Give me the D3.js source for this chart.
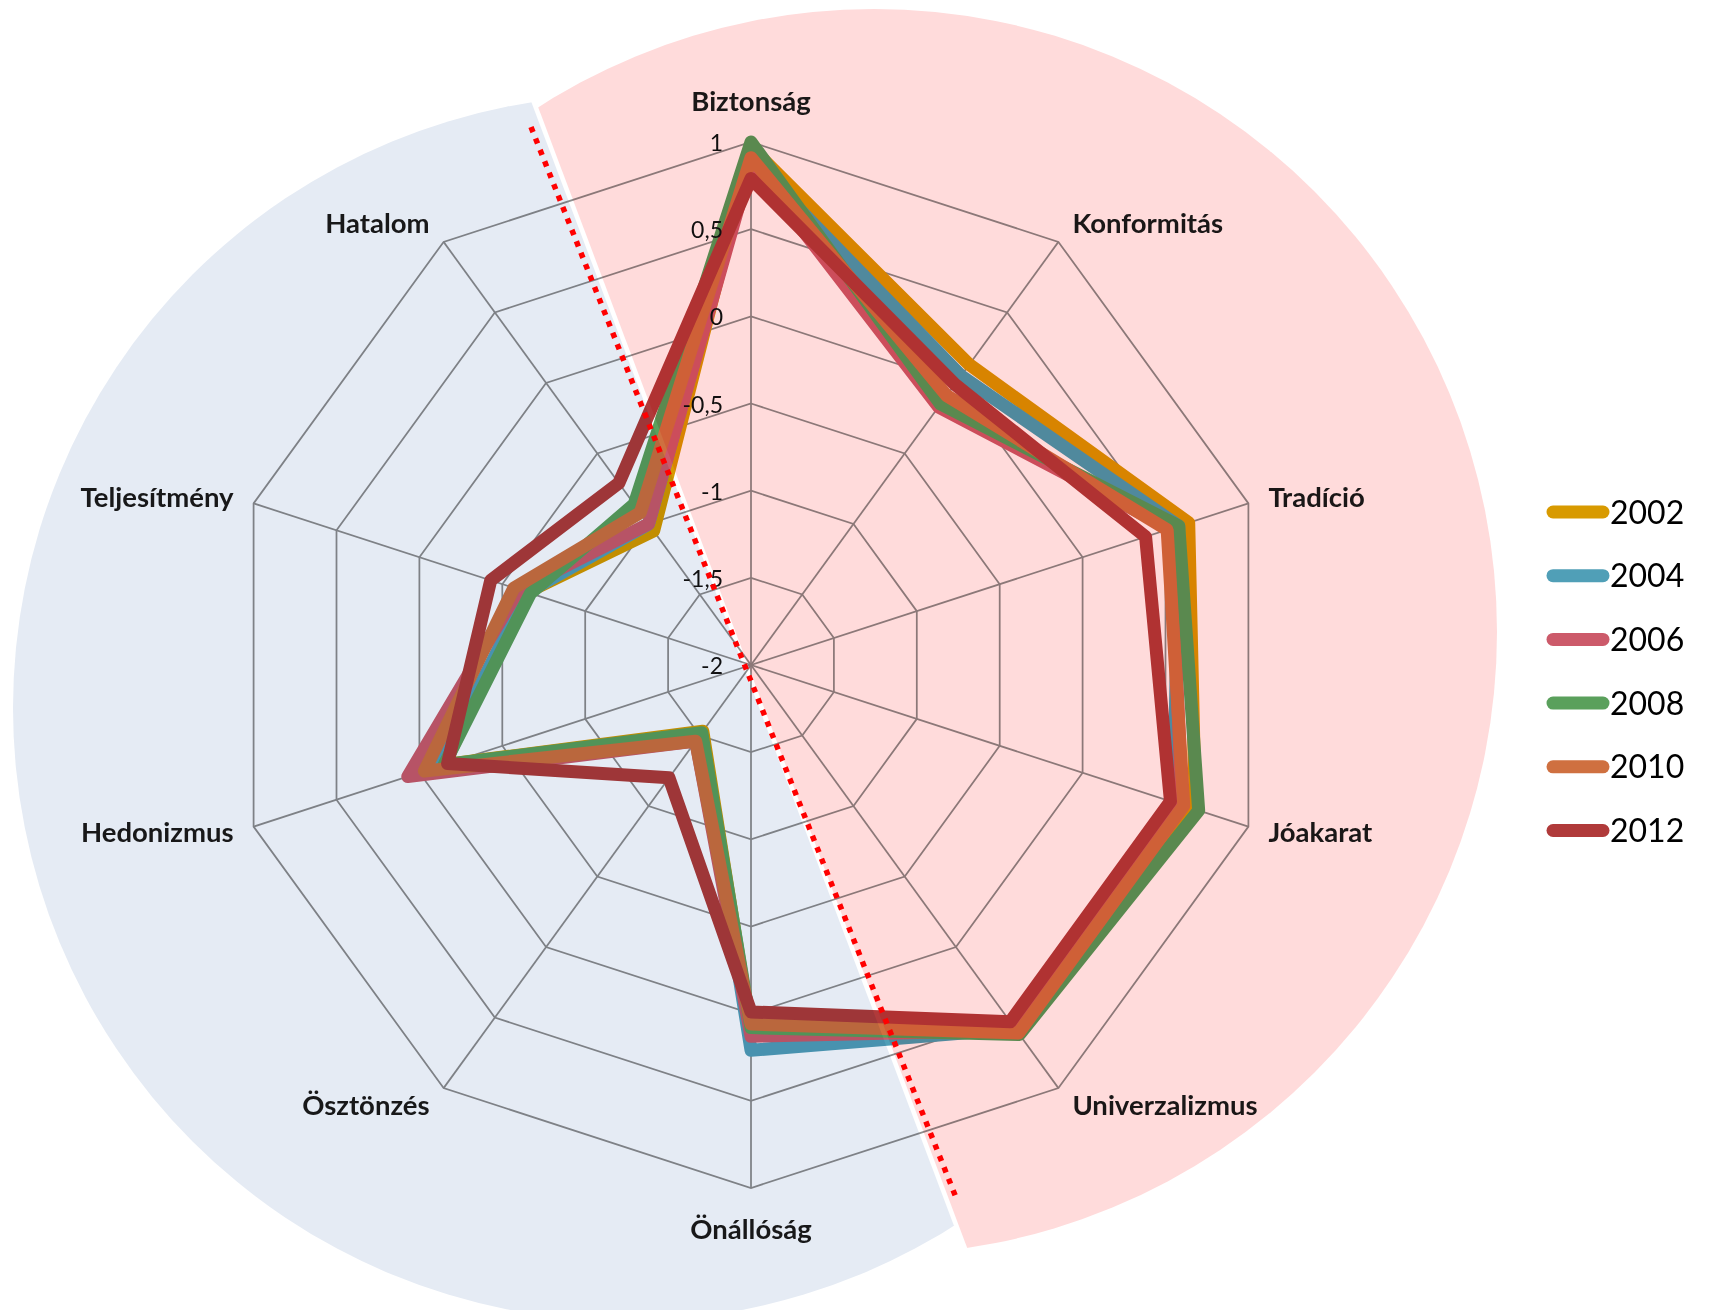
<!DOCTYPE html>
<html><head><meta charset="utf-8">
<script src="https://cdn.jsdelivr.net/npm/d3@7"></script>
<style>
html,body{margin:0;padding:0;background:#fff;}
svg{display:block;background:#fff;}
text{font-family:Lato,"Noto Sans",sans-serif;}
</style></head><body>
<svg id="chart" width="1710" height="1310"></svg>
<script>
// ---------- data ----------
const categories = ["Biztonság","Konformitás","Tradíció","Jóakarat","Univerzalizmus","Önállóság","Ösztönzés","Hedonizmus","Teljesítmény","Hatalom"];
const years = ["2002","2004","2006","2008","2010","2012"];
const v2002 = [0.97, 0.13, 0.64, 0.68, 0.60, 0.11, -1.53, -0.15, -0.65, -1.05];
const v2004 = [0.90, 0.05, 0.58, 0.55, 0.58, 0.21, -1.50, -0.12, -0.65, -1.00];
const v2006 = [0.88, -0.17, 0.53, 0.60, 0.59, 0.13, -1.46, 0.07, -0.60, -1.00];
const v2008 = [1.00, -0.15, 0.58, 0.70, 0.62, 0.08, -1.52, -0.15, -0.67, -0.86];
const v2010 = [0.91, -0.09, 0.51, 0.61, 0.61, 0.06, -1.46, -0.03, -0.57, -0.92];
const v2012 = [0.79, -0.01, 0.38, 0.53, 0.53, -0.01, -1.20, -0.17, -0.43, -0.71];
const seriesValues = [v2002, v2004, v2006, v2008, v2010, v2012];
const tickValues = [-2, -1.5, -1, -0.5, 0, 0.5, 1];
const tickLabels = ["-2", "-1,5", "-1", "-0,5", "0", "0,5", "1"];
const seriesColors = ["#d89a00", "#509fb7", "#cc5a6a", "#5aa05c", "#cf7040", "#b03a3a"];

// ---------- layout ----------
const cx = 751, cy = 665, R = 523;
const svg = d3.select("#chart");
const ang = d3.scaleLinear().domain([0, categories.length]).range([0, 2 * Math.PI]);
const rad = d3.scaleLinear().domain([tickValues[0], tickValues[tickValues.length - 1]]).range([0, R]);
const radarLine = d3.lineRadial().angle((d, i) => ang(i)).radius(d => rad(d)).curve(d3.curveLinearClosed);

const g = svg.append("g").attr("transform", `translate(${cx},${cy})`);

// grid rings
tickValues.slice(1).forEach(v => {
  g.append("path").attr("d", radarLine(categories.map(() => v)))
    .attr("fill", "none").attr("stroke", "#8c8c8c").attr("stroke-width", 1.75);
});
// spokes
categories.forEach((c, i) => {
  const [x, y] = d3.pointRadial(ang(i), rad(tickValues[tickValues.length - 1]));
  g.append("line").attr("x1", 0).attr("y1", 0).attr("x2", x).attr("y2", y)
    .attr("stroke", "#8c8c8c").attr("stroke-width", 1.75);
});

// series
years.forEach((yr, k) => {
  g.append("path").attr("d", radarLine(seriesValues[k]))
    .attr("fill", "none").attr("stroke", seriesColors[k])
    .attr("stroke-width", 13).attr("stroke-linejoin", "round");
});

// tick labels
tickValues.forEach((v, i) => {
  g.append("text").attr("x", -28).attr("y", -rad(v) + 9)
    .attr("text-anchor", "end").attr("font-size", 23).attr("fill", "#111")
    .text(tickLabels[i]);
});

// category labels
const labelOffsets = [[0,-41,"middle"],[14,-18,"start"],[20,-6,"start"],[20,6,"start"],[14,17,"start"],
                      [0,41,"middle"],[-14,17,"end"],[-20,6,"end"],[-20,-6,"end"],[-14,-18,"end"]];
categories.forEach((c, i) => {
  const [x, y] = d3.pointRadial(ang(i), rad(tickValues[tickValues.length - 1]));
  const o = labelOffsets[i];
  g.append("text").attr("x", x + o[0]).attr("y", y + o[1] + 9.5)
    .attr("text-anchor", o[2]).attr("font-size", 27.5).attr("font-weight", "bold")
    .attr("fill", "#1a1a1a").text(c);
});

// ---------- background halves (multiply overlay) ----------
const P0 = [533, 100], dv = [425, 1130];
const dl = Math.hypot(dv[0], dv[1]);
const d = [dv[0] / dl, dv[1] / dl];
const n = [d[1], -d[0]];
function halfPlane(gap, sign) {
  const o = [P0[0] + gap * n[0], P0[1] + gap * n[1]];
  const A = [o[0] - 3000 * d[0], o[1] - 3000 * d[1]];
  const B = [o[0] + 3000 * d[0], o[1] + 3000 * d[1]];
  const C = [B[0] + sign * 3000 * n[0], B[1] + sign * 3000 * n[1]];
  const D = [A[0] + sign * 3000 * n[0], A[1] + sign * 3000 * n[1]];
  return [A, B, C, D].map(p => p.join(",")).join(" ");
}
const defs = svg.append("defs");
defs.append("clipPath").attr("id", "clipPink").append("polygon").attr("points", halfPlane(2.3, 1));
defs.append("clipPath").attr("id", "clipBlue").append("polygon").attr("points", halfPlane(-2.3, -1));

svg.append("circle").attr("cx", 874).attr("cy", 632).attr("r", 623)
  .attr("fill", "#ffdbdb").attr("clip-path", "url(#clipPink)").style("mix-blend-mode", "multiply");
svg.append("circle").attr("cx", 626).attr("cy", 708).attr("r", 613)
  .attr("fill", "#e5ebf4").attr("clip-path", "url(#clipBlue)").style("mix-blend-mode", "multiply");

// dotted divider
svg.append("line").attr("x1", 531).attr("y1", 127).attr("x2", 957).attr("y2", 1200)
  .attr("stroke", "#ff0000").attr("stroke-width", 5.5).attr("stroke-dasharray", "5.5 6.8");

// ---------- legend ----------
const legend = svg.append("g");
years.forEach((yr, k) => {
  const y = 512 + k * 63.7;
  legend.append("line").attr("x1", 1553).attr("x2", 1603).attr("y1", y).attr("y2", y)
    .attr("stroke", seriesColors[k]).attr("stroke-width", 13).attr("stroke-linecap", "round");
  legend.append("text").attr("x", 1610).attr("y", y + 11.5).attr("font-size", 32).attr("fill", "#000").text(yr);
});
</script>
</body></html>
